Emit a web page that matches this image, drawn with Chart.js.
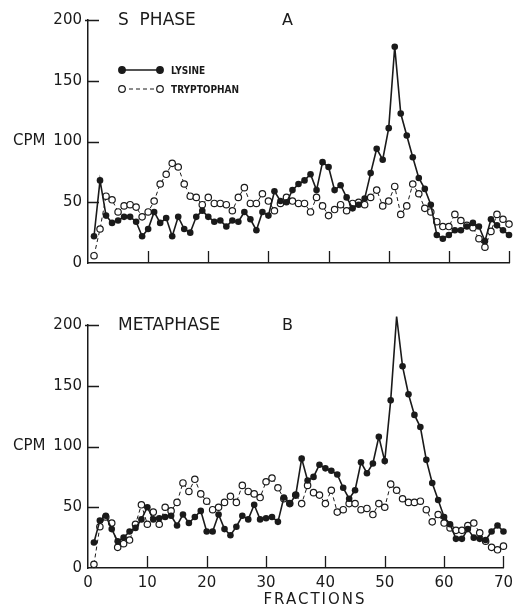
<!DOCTYPE html>
<html>
<head>
<meta charset="utf-8">
<script src="https://cdn.jsdelivr.net/npm/chart.js@4/dist/chart.umd.min.js"></script>
<style>
  html, body { margin: 0; padding: 0; background: #fff; }
  #wrap { position: relative; width: 519px; height: 611px; }
  canvas { position: absolute; left: 0; }
  #top { top: 0; }
  #bot { top: 290px; }
</style>
</head>
<body>
<div id="wrap">
  <canvas id="top" width="519" height="290"></canvas>
  <canvas id="bot" width="519" height="321"></canvas>
</div>
<script>
/* ---------- Data ---------- */
const fractions = [1,2,3,4,5,6,7,8,9,10,11,12,13,14,15,16,17,18,19,20,
  21,22,23,24,25,26,27,28,29,30,31,32,33,34,35,36,37,38,39,40,
  41,42,43,44,45,46,47,48,49,50,51,52,53,54,55,56,57,58,59,60,
  61,62,63,64,65,66,67,68,69,70];

// A: S phase
const lysineS = [22,68,39,33,35,38,38,34,22,28,42,33,37,22,38,28,25,38,43,38,
  34,35,30,35,34,42,36,27,42,39,59,51,50,60,65,68,73,60,83,79,
  60,64,54,45,48,53,74,94,85,111,178,123,105,87,70,61,48,23,20,23,
  27,27,30,33,30,18,36,31,27,23];
const tryptophanS = [6,28,55,52,42,47,48,46,38,42,51,65,73,82,79,65,55,54,48,54,
  49,49,48,43,54,62,49,49,57,51,43,49,54,51,49,49,42,54,47,39,
  44,48,43,49,50,48,54,60,47,51,63,40,47,65,57,45,42,34,30,30,
  40,35,31,29,20,13,26,40,36,32];

// B: metaphase
const lysineM = [21,39,43,32,22,25,30,33,40,50,40,41,42,43,35,44,37,42,47,30,
  30,44,32,27,34,43,40,52,40,41,42,38,58,53,60,90,72,75,85,82,
  80,77,66,57,64,87,78,86,108,88,138,207,166,143,126,116,89,70,56,42,
  36,24,24,32,25,24,23,30,35,30];
const tryptophanM = [3,34,42,37,17,20,23,36,52,36,46,36,50,47,54,70,63,73,61,55,
  48,50,54,59,54,68,63,61,58,71,74,66,57,53,60,53,68,62,60,53,
  64,46,48,53,53,48,49,44,53,50,69,64,57,54,54,55,48,38,44,37,
  33,31,31,35,37,29,22,17,15,18];

const yTicks = [0, 50, 100, 150, 200];
const xTicks = [0, 10, 20, 30, 40, 50, 60, 70];

/* ---------- Style ---------- */
const INK = "#1a1a1a";
const FONT = "'DejaVu Sans', sans-serif";
const pts = (vals) => vals.map((v, i) => ({ x: fractions[i], y: v }));

/* ---------- Custom drawing: inward ticks, labels, legend ---------- */
const panelDecor = {
  id: "panelDecor",
  afterDraw(chart, args, o) {
    const { ctx, scales: { x, y } } = chart;
    ctx.save();
    ctx.strokeStyle = INK;
    ctx.lineWidth = 1.3;
    ctx.beginPath();
    yTicks.forEach(v => {
      if (v === 0) return;
      const py = Math.round(y.getPixelForValue(v)) + 0.5;
      ctx.moveTo(x.left - (v === 200 ? 3 : 0), py);
      ctx.lineTo(x.left + 11, py);
    });
    xTicks.forEach(v => {
      if (v === 0) return;
      const px = Math.round(x.getPixelForValue(v)) + 0.5;
      ctx.moveTo(px, y.bottom);
      ctx.lineTo(px, y.bottom - 12);
    });
    ctx.stroke();

    ctx.fillStyle = INK;
    ctx.textBaseline = "middle";

    // CPM beside the 100 label
    ctx.font = `15px ${FONT}`;
    ctx.textAlign = "left";
    ctx.fillText("CPM", 13, y.getPixelForValue(100));

    // panel title + letter
    const ty = y.getPixelForValue(200) + 1;
    ctx.font = `17px ${FONT}`;
    ctx.fillText(o.title, 118, ty);
    ctx.font = `16px ${FONT}`;
    ctx.fillText(o.letter, 282, ty);

    if (o.legend) {
      const rows = [
        { y: 70, label: "LYSINE", filled: true },
        { y: 89, label: "TRYPTOPHAN", filled: false }
      ];
      rows.forEach(r => {
        ctx.beginPath();
        ctx.setLineDash(r.filled ? [] : [4, 3]);
        ctx.lineWidth = r.filled ? 1.6 : 1;
        ctx.moveTo(122, r.y); ctx.lineTo(160, r.y);
        ctx.stroke();
        ctx.setLineDash([]);
        [122, 160].forEach(cx => {
          ctx.beginPath();
          ctx.arc(cx, r.y, 3.3, 0, Math.PI * 2);
          ctx.fillStyle = r.filled ? INK : "#fff";
          ctx.fill();
          ctx.lineWidth = 1.2;
          ctx.stroke();
        });
        ctx.fillStyle = INK;
        ctx.font = `bold 10px 'DejaVu Sans Condensed', ${FONT}`;
        ctx.fillText(r.label, 171, r.y + 1);
      });
    }

    if (o.fractions) {
      ctx.font = `15px ${FONT}`;
      ctx.textAlign = "center";
      ctx.letterSpacing = "2px";
      ctx.fillText("FRACTIONS", 315, y.bottom + 32);
    }
    ctx.restore();
  }
};

function makePanel(id, lys, trp, opts) {
  return new Chart(document.getElementById(id), {
    type: "line",
    data: {
      datasets: [
        {
          label: "LYSINE",
          data: pts(lys),
          borderColor: INK,
          borderWidth: 1.6,
          pointRadius: 3.3,
          pointBackgroundColor: INK,
          pointBorderColor: INK,
          pointBorderWidth: 0,
          tension: 0,
          clip: false
        },
        {
          label: "TRYPTOPHAN",
          data: pts(trp),
          borderColor: INK,
          borderWidth: 1,
          borderDash: [4, 3],
          pointRadius: 3.2,
          pointBackgroundColor: "#fff",
          pointBorderColor: INK,
          pointBorderWidth: 1.2,
          tension: 0,
          clip: false
        }
      ]
    },
    options: {
      responsive: false,
      animation: false,
      events: [],
      layout: { padding: { top: opts.padTop, right: 10, left: 0, bottom: 0 } },
      plugins: {
        legend: { display: false },
        tooltip: { enabled: false },
        panelDecor: opts
      },
      scales: {
        x: {
          type: "linear",
          min: 0, max: 70,
          afterFit: (s) => { s.height = opts.xHeight; },
          afterBuildTicks: (s) => { s.ticks = xTicks.map(v => ({ value: v })); },
          grid: { display: true, drawOnChartArea: false, drawTicks: false },
          border: { display: true, color: INK, width: 1.5 },
          ticks: {
            display: opts.xLabels,
            padding: 6,
            color: INK,
            font: { family: FONT, size: 15 },
            maxRotation: 0
          }
        },
        y: {
          type: "linear",
          min: 0, max: 200,
          afterFit: (s) => { s.width = 88; },
          afterBuildTicks: (s) => { s.ticks = yTicks.map(v => ({ value: v })); },
          grid: { display: true, drawOnChartArea: false, drawTicks: false },
          border: { display: true, color: INK, width: 1.5 },
          ticks: {
            padding: 6,
            color: INK,
            font: { family: FONT, size: 15 }
          }
        }
      }
    },
    plugins: [panelDecor]
  });
}

makePanel("top", lysineS, tryptophanS, {
  title: "S  PHASE", letter: "A", legend: true, fractions: false,
  xLabels: false, padTop: 20, xHeight: 27
});
makePanel("bot", lysineM, tryptophanM, {
  title: "METAPHASE", letter: "B", legend: false, fractions: true,
  xLabels: true, padTop: 35, xHeight: 43
});
</script>
</body>
</html>
